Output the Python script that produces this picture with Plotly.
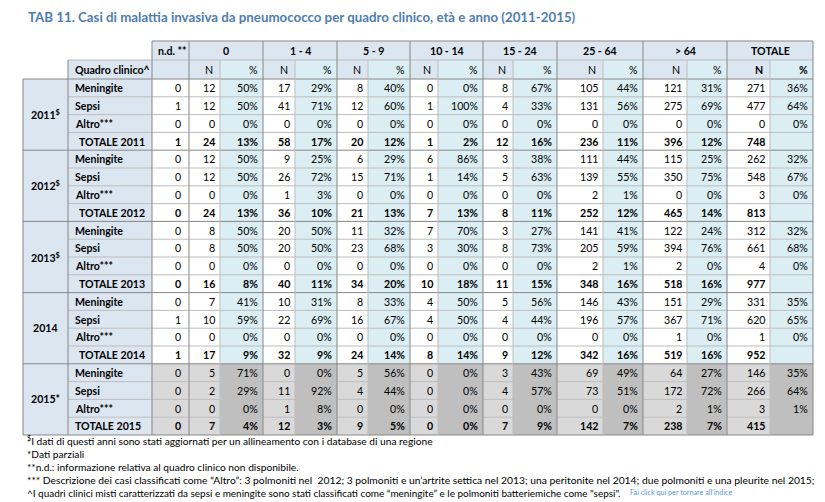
import plotly.graph_objects as go

# ---------------- data ----------------
age_groups = ["0", "1 - 4", "5 - 9", "10 - 14", "15 - 24", "25 - 64", "> 64", "TOTALE"]
years = ["2011", "2012", "2013", "2014", "2015"]
year_notes = ["$", "$", "$", "", "*"]
conditions = ["Meningite", "Sepsi", "Altro***"]

nd_2011 = [0, 1, 0, 1]
n_2011 = [[12, 17, 8, 0, 8, 105, 121, 271],
          [12, 41, 12, 1, 4, 131, 275, 477],
          [0, 0, 0, 0, 0, 0, 0, 0],
          [24, 58, 20, 1, 12, 236, 396, 748]]
pct_2011 = [[50, 29, 40, 0, 67, 44, 31, 36],
            [50, 71, 60, 100, 33, 56, 69, 64],
            [0, 0, 0, 0, 0, 0, 0, 0],
            [13, 17, 12, 2, 16, 11, 12, None]]

nd_2012 = [0, 0, 0, 0]
n_2012 = [[12, 9, 6, 6, 3, 111, 115, 262],
          [12, 26, 15, 1, 5, 139, 350, 548],
          [0, 1, 0, 0, 0, 2, 0, 3],
          [24, 36, 21, 7, 8, 252, 465, 813]]
pct_2012 = [[50, 25, 29, 86, 38, 44, 25, 32],
            [50, 72, 71, 14, 63, 55, 75, 67],
            [0, 3, 0, 0, 0, 1, 0, 0],
            [13, 10, 13, 13, 11, 12, 14, None]]

nd_2013 = [0, 0, 0, 0]
n_2013 = [[8, 20, 11, 7, 3, 141, 122, 312],
          [8, 20, 23, 3, 8, 205, 394, 661],
          [0, 0, 0, 0, 0, 2, 2, 4],
          [16, 40, 34, 10, 11, 348, 518, 977]]
pct_2013 = [[50, 50, 32, 70, 27, 41, 24, 32],
            [50, 50, 68, 30, 73, 59, 76, 68],
            [0, 0, 0, 0, 0, 1, 0, 0],
            [8, 11, 20, 18, 15, 16, 16, None]]

nd_2014 = [0, 1, 0, 1]
n_2014 = [[7, 10, 8, 4, 5, 146, 151, 331],
          [10, 22, 16, 4, 4, 196, 367, 620],
          [0, 0, 0, 0, 0, 0, 1, 1],
          [17, 32, 24, 8, 9, 342, 519, 952]]
pct_2014 = [[41, 31, 33, 50, 56, 43, 29, 35],
            [59, 69, 67, 50, 44, 57, 71, 65],
            [0, 0, 0, 0, 0, 0, 0, 0],
            [9, 9, 14, 14, 12, 16, 16, None]]

nd_2015 = [0, 0, 0, 0]
n_2015 = [[5, 0, 5, 0, 3, 69, 64, 146],
          [2, 11, 4, 0, 4, 73, 172, 266],
          [0, 1, 0, 0, 0, 0, 2, 3],
          [7, 12, 9, 0, 7, 142, 238, 415]]
pct_2015 = [[71, 0, 56, 0, 43, 49, 27, 35],
            [29, 92, 44, 0, 57, 51, 72, 64],
            [0, 8, 0, 0, 0, 0, 1, 1],
            [4, 3, 5, 0, 9, 7, 7, None]]

nd_all = [nd_2011, nd_2012, nd_2013, nd_2014, nd_2015]
n_all = [n_2011, n_2012, n_2013, n_2014, n_2015]
pct_all = [pct_2011, pct_2012, pct_2013, pct_2014, pct_2015]

title_text = "TAB 11. Casi di malattia invasiva da pneumococco per quadro clinico, età e anno (2011-2015)"
footnotes = [
    "<sup>$</sup>I dati di questi anni sono stati aggiornati per un allineamento con i database di una regione",
    "*Dati parziali",
    "**n.d.: informazione relativa al quadro clinico non disponibile.",
    "*** Descrizione dei casi classificati come “Altro”: 3 polmoniti nel  2012; 3 polmoniti e un’artrite settica nel 2013; una peritonite nel 2014; due polmoniti e una pleurite nel 2015;",
    "^I quadri clinici misti caratterizzati da sepsi e meningite sono stati classificati come “meningite” e le polmoniti batteriemiche come \"sepsi\".",
]
footnote_sizes = [10.2, 10.2, 10.2, 10.3, 9.95]
link_text = "Fai click qui per tornare all’indice"

# ---------------- layout geometry ----------------
W, H = 825, 502
OFF = 8  # page body margin
FONT = "Lato"
COL_EDGES = [23, 68, 152, 189, 220, 263, 295, 337, 368, 410, 438, 483,
             513, 557, 603, 643, 687, 727, 770, 813]
H1_TOP, H2_TOP, DATA_TOP, ROW_H = 41, 60, 79, 17.8
PAD = 3.5
FS = 10.6

HEAD = "#DCE6F1"
PCT = "#DAEEF3"
GRAY_N = "#D9D9D9"
GRAY_P = "#BFBFBF"
LINE_IN = "#BDBDBD"
LINE_GRP = "#878787"
TITLE_C = "#4F7DB0"

shapes = []
annotations = []


def rect(x0, x1, y0, y1, color):
    shapes.append(dict(type="rect", xref="x", yref="y", x0=x0, x1=x1, y0=y0, y1=y1,
                       fillcolor=color, line=dict(width=0), layer="below"))


def line(x0, x1, y0, y1, color):
    shapes.append(dict(type="line", xref="x", yref="y", x0=x0, x1=x1, y0=y0, y1=y1,
                       line=dict(color=color, width=1), layer="above"))


def text(x, y, s, anchor="right", bold=False, size=FS, color="#000000"):
    annotations.append(dict(x=x, y=y, xref="x", yref="y", text=f"<b>{s}</b>" if bold else s,
                            showarrow=False, xanchor=anchor, yanchor="middle",
                            font=dict(family=FONT, size=size, color=color)))


n_rows = len(years) * 4
BOTTOM = DATA_TOP + ROW_H * n_rows

# header row 1
rect(COL_EDGES[2], COL_EDGES[3], H1_TOP, H2_TOP, HEAD)
text(COL_EDGES[2] + 4, (H1_TOP + H2_TOP) / 2, "n.d. **", anchor="left", bold=True)
for g, lab in enumerate(age_groups):
    x0, x1 = COL_EDGES[3 + 2 * g], COL_EDGES[5 + 2 * g]
    rect(x0, x1, H1_TOP, H2_TOP, HEAD)
    text((x0 + x1) / 2, (H1_TOP + H2_TOP) / 2, lab, anchor="center", bold=True)

# header row 2
yc2 = (H2_TOP + DATA_TOP) / 2
rect(COL_EDGES[1], COL_EDGES[2], H2_TOP, DATA_TOP, HEAD)
text(COL_EDGES[1] + 5, yc2, "Quadro clinico^", anchor="left", bold=True)
rect(COL_EDGES[2], COL_EDGES[3], H2_TOP, DATA_TOP, HEAD)
for g in range(len(age_groups)):
    xa, xb, xc = COL_EDGES[3 + 2 * g], COL_EDGES[4 + 2 * g], COL_EDGES[5 + 2 * g]
    rect(xa, xb, H2_TOP, DATA_TOP, HEAD)
    rect(xb, xc, H2_TOP, DATA_TOP, PCT)
    is_tot = g == len(age_groups) - 1
    text(xb - PAD - 2, yc2, "N", bold=is_tot)
    text(xc - PAD, yc2, "%", bold=is_tot)

# data rows
for yi, yr in enumerate(years):
    gray = yr == "2015"
    top = DATA_TOP + ROW_H * 4 * yi
    rect(COL_EDGES[0], COL_EDGES[1], top, top + 4 * ROW_H, HEAD)
    note = f"<sup>{year_notes[yi]}</sup>" if year_notes[yi] == "$" else year_notes[yi]
    text((COL_EDGES[0] + COL_EDGES[1]) / 2, top + 2 * ROW_H, yr + note, anchor="center", bold=True)
    for r in range(4):
        y0 = top + ROW_H * r
        y1 = y0 + ROW_H
        yc = (y0 + y1) / 2 + 0.3
        is_total = r == 3
        rect(COL_EDGES[1], COL_EDGES[2], y0, y1, HEAD)
        if is_total:
            if gray:
                text((COL_EDGES[1] + COL_EDGES[2]) / 2 - 2, yc, f"TOTALE {yr}", anchor="center", bold=True)
            else:
                text(COL_EDGES[2] - 5, yc, f"TOTALE {yr}", anchor="right", bold=True)
        else:
            text(COL_EDGES[1] + 5, yc, conditions[r], anchor="left", bold=True)
        rect(COL_EDGES[2], COL_EDGES[3], y0, y1, GRAY_N if gray else "#FFFFFF")
        text(COL_EDGES[3] - PAD - 3, yc, str(nd_all[yi][r]), bold=is_total)
        for g in range(len(age_groups)):
            xa, xb, xc = COL_EDGES[3 + 2 * g], COL_EDGES[4 + 2 * g], COL_EDGES[5 + 2 * g]
            rect(xa, xb, y0, y1, GRAY_N if gray else "#FFFFFF")
            rect(xb, xc, y0, y1, GRAY_P if gray else PCT)
            text(xb - PAD, yc, str(n_all[yi][r][g]), bold=is_total)
            p = pct_all[yi][r][g]
            if p is not None:
                text(xc - PAD, yc, f"{p}%", bold=is_total)

# grid lines
for i in range(n_rows + 1):
    y = DATA_TOP + ROW_H * i
    if i % 4 == 0:
        line(COL_EDGES[0], COL_EDGES[-1], y, y, LINE_GRP)
    else:
        line(COL_EDGES[1], COL_EDGES[-1], y, y, LINE_IN)
line(COL_EDGES[2], COL_EDGES[-1], H1_TOP, H1_TOP, LINE_GRP)
line(COL_EDGES[1], COL_EDGES[-1], H2_TOP, H2_TOP, LINE_IN)
for k in range(4, len(COL_EDGES) - 1, 2):
    line(COL_EDGES[k], COL_EDGES[k], H2_TOP, BOTTOM, LINE_IN)
line(COL_EDGES[0], COL_EDGES[0], DATA_TOP, BOTTOM, LINE_GRP)
line(COL_EDGES[1], COL_EDGES[1], H2_TOP, BOTTOM, LINE_GRP)
for k in [2] + list(range(3, len(COL_EDGES), 2)):
    line(COL_EDGES[k], COL_EDGES[k], H1_TOP, BOTTOM, LINE_GRP)

# title & footnotes
text(26, 17, title_text, anchor="left", bold=True, size=13.3, color=TITLE_C)
fy = [440.5, 453.5, 466.5, 479.5, 492.5]
for s, y, fs in zip(footnotes, fy, footnote_sizes):
    text(25, y, s, anchor="left", size=fs, color="#000000")
text(628, fy[-1], link_text, anchor="left", size=7.2, color="#5B9BD5")

fig = go.Figure()
fig.add_trace(go.Scatter(x=[OFF, W], y=[OFF, H], mode="markers",
                         marker=dict(opacity=0), hoverinfo="skip", showlegend=False))
fig.update_layout(
    width=W - OFF, height=H - OFF, margin=dict(l=0, r=0, t=0, b=0),
    paper_bgcolor="#FFFFFF", plot_bgcolor="#FFFFFF",
    xaxis=dict(range=[OFF, W], visible=False, fixedrange=True),
    yaxis=dict(range=[H, OFF], visible=False, fixedrange=True),
    shapes=shapes, annotations=annotations, showlegend=False,
)
fig.write_html("out.html")
